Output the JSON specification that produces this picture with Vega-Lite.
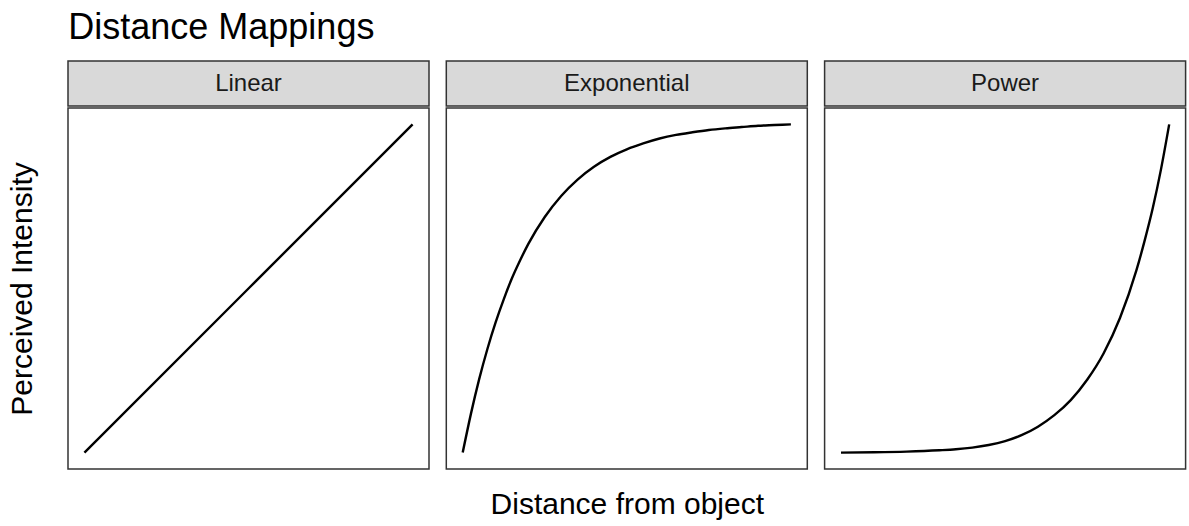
{
  "$schema": "https://vega.github.io/schema/vega-lite/v6.json",
  "autosize": {"type": "pad"},
  "padding": {"left": 6, "top": 10, "right": 4, "bottom": 4},
  "background": "white",
  "config": {
    "font": "Liberation Sans",
    "view": {"stroke": "#333333", "strokeWidth": 1.5}
  },
  "title": {
    "text": "Distance Mappings",
    "anchor": "start",
    "fontSize": 36,
    "fontWeight": "normal",
    "color": "#000000",
    "offset": 13,
    "dx": 62
  },
  "datasets": {
    "curves": [
      {"panel": "Linear", "d": 0, "v": 0},
      {"panel": "Linear", "d": 0.5, "v": 0.5},
      {"panel": "Linear", "d": 1, "v": 1},
      {"panel": "Exponential", "d": 0, "v": 0},
      {"panel": "Exponential", "d": 0.025, "v": 0.118},
      {"panel": "Exponential", "d": 0.05, "v": 0.223},
      {"panel": "Exponential", "d": 0.075, "v": 0.315},
      {"panel": "Exponential", "d": 0.1, "v": 0.396},
      {"panel": "Exponential", "d": 0.125, "v": 0.467},
      {"panel": "Exponential", "d": 0.15, "v": 0.531},
      {"panel": "Exponential", "d": 0.175, "v": 0.586},
      {"panel": "Exponential", "d": 0.2, "v": 0.636},
      {"panel": "Exponential", "d": 0.25, "v": 0.718},
      {"panel": "Exponential", "d": 0.3, "v": 0.782},
      {"panel": "Exponential", "d": 0.35, "v": 0.832},
      {"panel": "Exponential", "d": 0.4, "v": 0.871},
      {"panel": "Exponential", "d": 0.45, "v": 0.901},
      {"panel": "Exponential", "d": 0.5, "v": 0.924},
      {"panel": "Exponential", "d": 0.55, "v": 0.942},
      {"panel": "Exponential", "d": 0.6, "v": 0.957},
      {"panel": "Exponential", "d": 0.65, "v": 0.968},
      {"panel": "Exponential", "d": 0.7, "v": 0.976},
      {"panel": "Exponential", "d": 0.75, "v": 0.983},
      {"panel": "Exponential", "d": 0.8, "v": 0.988},
      {"panel": "Exponential", "d": 0.85, "v": 0.992},
      {"panel": "Exponential", "d": 0.9, "v": 0.996},
      {"panel": "Exponential", "d": 0.95, "v": 0.998},
      {"panel": "Exponential", "d": 1, "v": 1},
      {"panel": "Power", "d": 0, "v": 0},
      {"panel": "Power", "d": 0.1, "v": 0.001},
      {"panel": "Power", "d": 0.2, "v": 0.003},
      {"panel": "Power", "d": 0.3, "v": 0.007},
      {"panel": "Power", "d": 0.35, "v": 0.010},
      {"panel": "Power", "d": 0.4, "v": 0.015},
      {"panel": "Power", "d": 0.45, "v": 0.023},
      {"panel": "Power", "d": 0.5, "v": 0.035},
      {"panel": "Power", "d": 0.55, "v": 0.053},
      {"panel": "Power", "d": 0.6, "v": 0.079},
      {"panel": "Power", "d": 0.65, "v": 0.114},
      {"panel": "Power", "d": 0.7, "v": 0.160},
      {"panel": "Power", "d": 0.75, "v": 0.222},
      {"panel": "Power", "d": 0.8, "v": 0.302},
      {"panel": "Power", "d": 0.85, "v": 0.410},
      {"panel": "Power", "d": 0.9, "v": 0.555},
      {"panel": "Power", "d": 0.925, "v": 0.645},
      {"panel": "Power", "d": 0.95, "v": 0.745},
      {"panel": "Power", "d": 0.975, "v": 0.863},
      {"panel": "Power", "d": 1, "v": 1}
    ],
    "strips": [
      {"panel": "Linear"},
      {"panel": "Exponential"},
      {"panel": "Power"}
    ]
  },
  "columns": 3,
  "spacing": {"row": 0, "column": 15.3},
  "concat": [
    {
      "width": 361, "height": 45,
      "data": {"name": "strips"},
      "transform": [{"filter": "datum.panel === 'Linear'"}],
      "view": {"fill": "#d9d9d9", "stroke": "#333333", "strokeWidth": 1.5},
      "mark": {"type": "text", "fontSize": 24, "color": "#1a1a1a"},
      "encoding": {"text": {"field": "panel"}}
    },
    {
      "width": 361, "height": 45,
      "data": {"name": "strips"},
      "transform": [{"filter": "datum.panel === 'Exponential'"}],
      "view": {"fill": "#d9d9d9", "stroke": "#333333", "strokeWidth": 1.5},
      "mark": {"type": "text", "fontSize": 24, "color": "#1a1a1a"},
      "encoding": {"text": {"field": "panel"}}
    },
    {
      "width": 361, "height": 45,
      "data": {"name": "strips"},
      "transform": [{"filter": "datum.panel === 'Power'"}],
      "view": {"fill": "#d9d9d9", "stroke": "#333333", "strokeWidth": 1.5},
      "mark": {"type": "text", "fontSize": 24, "color": "#1a1a1a"},
      "encoding": {"text": {"field": "panel"}}
    },
    {
      "width": 361, "height": 361,
      "data": {"name": "curves"},
      "transform": [{"filter": "datum.panel === 'Linear'"}],
      "mark": {"type": "line", "color": "#000000", "strokeWidth": 2.4, "interpolate": "monotone"},
      "encoding": {
        "x": {"field": "d", "type": "quantitative", "scale": {"domain": [-0.05, 1.05], "nice": false, "zero": false}, "axis": null},
        "y": {"field": "v", "type": "quantitative", "scale": {"domain": [-0.05, 1.05], "nice": false, "zero": false},
          "axis": {"title": "Perceived Intensity", "labels": false, "ticks": false, "domain": false, "grid": false, "titleFontSize": 30, "titleFontWeight": "normal", "titleColor": "#000000", "titlePadding": 31}}
      }
    },
    {
      "width": 361, "height": 361,
      "data": {"name": "curves"},
      "transform": [{"filter": "datum.panel === 'Exponential'"}],
      "mark": {"type": "line", "color": "#000000", "strokeWidth": 2.4, "interpolate": "monotone"},
      "encoding": {
        "x": {"field": "d", "type": "quantitative", "scale": {"domain": [-0.05, 1.05], "nice": false, "zero": false},
          "axis": {"title": "Distance from object", "labels": false, "ticks": false, "domain": false, "grid": false, "titleFontSize": 30, "titleFontWeight": "normal", "titleColor": "#000000", "titlePadding": 20}},
        "y": {"field": "v", "type": "quantitative", "scale": {"domain": [-0.05, 1.05], "nice": false, "zero": false}, "axis": null}
      }
    },
    {
      "width": 361, "height": 361,
      "data": {"name": "curves"},
      "transform": [{"filter": "datum.panel === 'Power'"}],
      "mark": {"type": "line", "color": "#000000", "strokeWidth": 2.4, "interpolate": "monotone"},
      "encoding": {
        "x": {"field": "d", "type": "quantitative", "scale": {"domain": [-0.05, 1.05], "nice": false, "zero": false}, "axis": null},
        "y": {"field": "v", "type": "quantitative", "scale": {"domain": [-0.05, 1.05], "nice": false, "zero": false}, "axis": null}
      }
    }
  ]
}
